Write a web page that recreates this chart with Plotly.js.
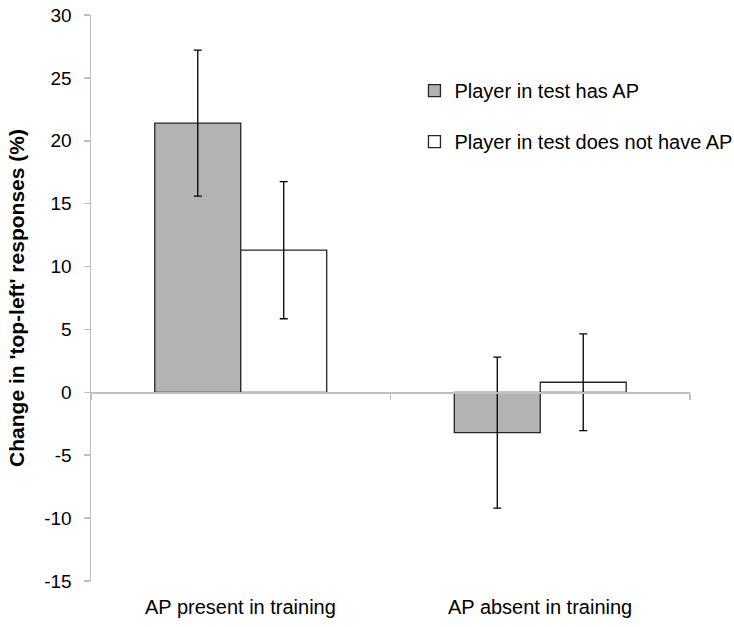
<!DOCTYPE html>
<html>
<head>
<meta charset="utf-8">
<script src="https://cdn.plot.ly/plotly-3.0.1.min.js"></script>
<style>
  html, body { margin: 0; padding: 0; background: #ffffff; }
  #chart { width: 734px; height: 627px; }
</style>
</head>
<body>
<div id="chart"></div>
<script>
// Data
const categories = ["AP present in training", "AP absent in training"];
const seriesNames = ["Player in test has AP", "Player in test does not have AP"];
const hasAP = [21.4, -3.2];
const hasAPError = [5.8, 6.0];
const noAP = [11.3, 0.8];
const noAPError = [5.45, 3.85];
const yTicks = [-15, -10, -5, 0, 5, 10, 15, 20, 25, 30];

const FONT = "Liberation Sans, Arial, sans-serif";

const traces = [
  {
    type: "bar",
    name: seriesNames[0],
    legendgroup: "a",
    x: categories,
    y: hasAP,
    marker: { color: "#b3b3b3", line: { color: "#262626", width: 1.3 } },
    error_y: { type: "data", array: hasAPError, visible: true, color: "#000000", thickness: 1.3, width: 4 }
  },
  {
    type: "bar",
    name: seriesNames[1],
    legendgroup: "b",
    x: categories,
    y: noAP,
    marker: { color: "#ffffff", line: { color: "#262626", width: 1.3 } },
    error_y: { type: "data", array: noAPError, visible: true, color: "#000000", thickness: 1.3, width: 4 }
  }
];

const annotations = categories.map(c => ({
  x: c, xref: "x", y: 0, yref: "paper",
  yanchor: "top", xanchor: "center", yshift: -13,
  text: c, showarrow: false,
  font: { family: FONT, size: 20, color: "#000000" }
}));

const layout = {
  width: 734, height: 627,
  margin: { l: 91, r: 44, t: 15, b: 46, autoexpand: false },
  paper_bgcolor: "#ffffff", plot_bgcolor: "#ffffff",
  font: { family: FONT, size: 20, color: "#000000" },
  barmode: "group", bargap: 0.426, bargroupgap: 0,
  showlegend: true,
  legend: {
    x: 0.54, xanchor: "left", y: 0.901, yanchor: "top",
    font: { family: FONT, size: 20, color: "#000000" },
    tracegroupgap: 22, traceorder: "grouped",
    bgcolor: "rgba(0,0,0,0)"
  },
  xaxis: {
    type: "category", categoryarray: categories, range: [-0.5, 1.5],
    anchor: "free", position: 1/3,
    showline: true, linecolor: "#bfbfbf", linewidth: 1.5,
    ticks: "outside", tickson: "boundaries", ticklen: 6, tickcolor: "#bfbfbf", tickwidth: 1.5,
    showticklabels: false, showgrid: false, zeroline: false, fixedrange: true
  },
  yaxis: {
    range: [-15, 30], tickvals: yTicks, ticktext: yTicks.map(String),
    showline: true, linecolor: "#bfbfbf", linewidth: 1.5,
    ticks: "outside", ticklen: 6, tickcolor: "#bfbfbf", tickwidth: 1.5,
    tickfont: { family: FONT, size: 19, color: "#000000" },
    ticklabelstandoff: 8,
    showgrid: false, zeroline: false, fixedrange: true,
    title: {
      text: "<b>Change in 'top-left' responses (%)</b>",
      font: { family: FONT, size: 21, color: "#000000" },
      standoff: 14
    }
  },
  annotations: annotations
};

Plotly.newPlot("chart", traces, layout, { displayModeBar: false, staticPlot: true });
</script>
</body>
</html>
